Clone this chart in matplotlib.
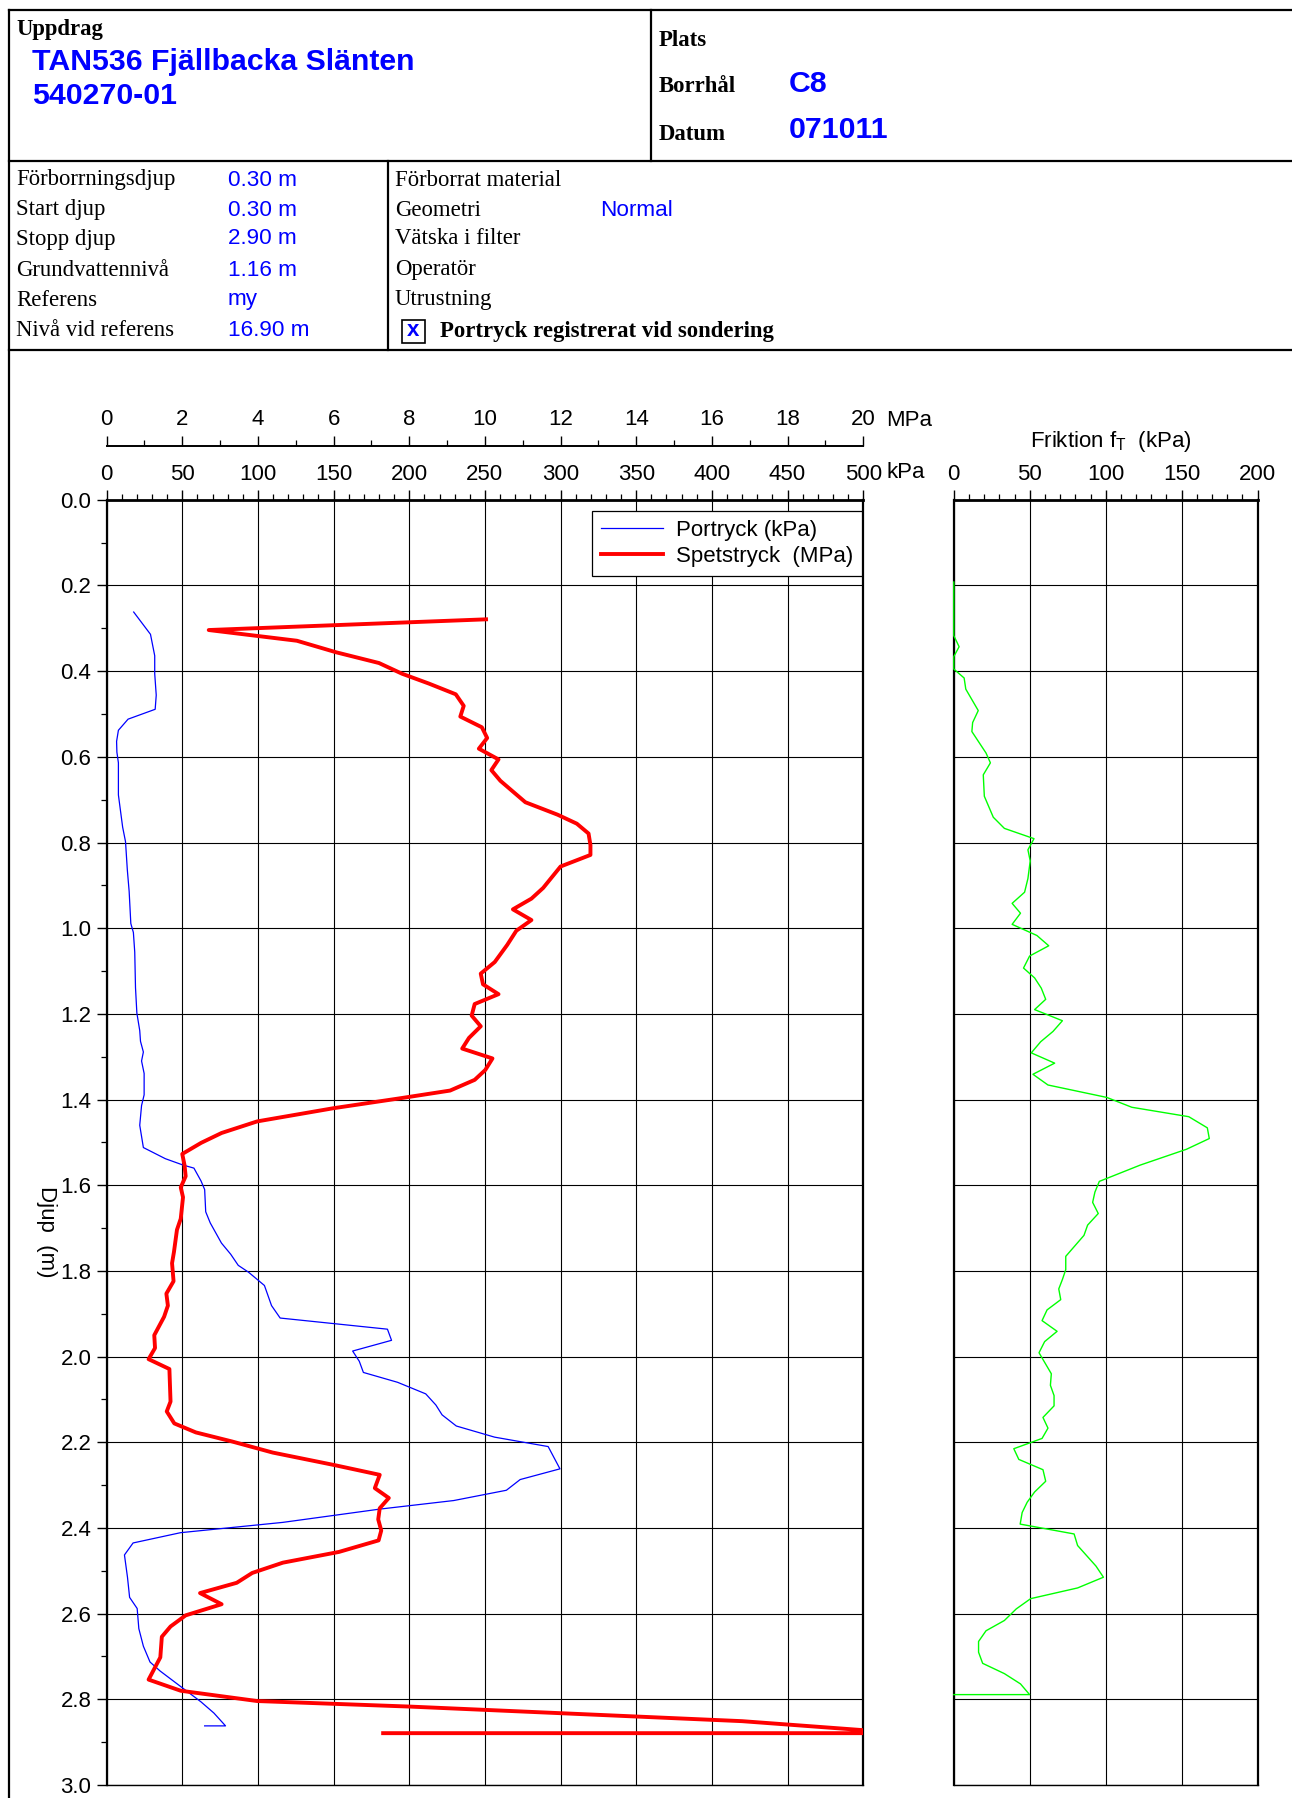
import numpy as np
import matplotlib.pyplot as plt
from matplotlib.lines import Line2D
from matplotlib.patches import Rectangle
from matplotlib.ticker import MultipleLocator, FormatStrFormatter

plt.rcParams['font.family'] = ['Liberation Sans', 'DejaVu Sans']
plt.rcParams['mathtext.default'] = 'regular'

W, H = 1292, 1798

# Portryck (kPa) mot djup (m)
pore_depth = [0.262, 0.314, 0.364, 0.406, 0.456, 0.489, 0.512, 0.538, 0.564, 0.589,
              0.614, 0.689, 0.764, 0.798, 0.864, 0.914, 0.989, 1.010, 1.056, 1.139,
              1.198, 1.239, 1.264, 1.289, 1.310, 1.339, 1.389, 1.414, 1.460, 1.512,
              1.538, 1.553, 1.560, 1.590, 1.610, 1.662, 1.688, 1.735, 1.761, 1.787,
              1.803, 1.834, 1.881, 1.910, 1.936, 1.962, 1.987, 2.011, 2.037, 2.060,
              2.087, 2.113, 2.136, 2.162, 2.188, 2.210, 2.262, 2.287, 2.312, 2.336,
              2.356, 2.387, 2.411, 2.435, 2.463, 2.515, 2.562, 2.588, 2.635, 2.676,
              2.713, 2.734, 2.770, 2.806, 2.832, 2.862, 2.862]
pore_kpa = [17.9, 29.0, 31.8, 31.8, 32.8, 32.1, 14.2, 7.8, 6.6, 6.8,
            7.8, 7.8, 10.6, 12.5, 13.7, 14.9, 16.0, 17.7, 18.6, 19.1,
            20.0, 21.9, 22.4, 24.3, 23.1, 24.8, 24.8, 23.1, 21.9, 24.3,
            38.8, 50.6, 57.7, 62.4, 64.8, 65.5, 68.5, 75.9, 82.0, 87.0,
            93.8, 104.3, 109.0, 114.7, 185.6, 188.3, 162.6, 167.0, 169.7, 192.3,
            210.9, 217.6, 221.7, 231.1, 256.4, 291.8, 299.6, 273.3, 264.2, 229.4,
            180.5, 116.4, 48.9, 17.5, 11.8, 13.8, 15.2, 20.2, 21.3, 24.3,
            28.7, 35.4, 48.9, 62.4, 70.9, 78.6, 64.8]

# Spetstryck (MPa) mot djup (m)
tip_depth = [0.279, 0.304, 0.329, 0.356, 0.381, 0.406, 0.429, 0.454, 0.481, 0.506,
             0.531, 0.556, 0.581, 0.606, 0.631, 0.656, 0.681, 0.706, 0.735, 0.756,
             0.779, 0.806, 0.829, 0.856, 0.906, 0.931, 0.956, 0.981, 1.006, 1.039,
             1.079, 1.106, 1.131, 1.154, 1.177, 1.204, 1.229, 1.256, 1.281, 1.304,
             1.331, 1.354, 1.379, 1.397, 1.420, 1.451, 1.478, 1.501, 1.527, 1.553,
             1.579, 1.605, 1.628, 1.678, 1.704, 1.756, 1.782, 1.824, 1.853, 1.881,
             1.907, 1.950, 1.980, 2.006, 2.029, 2.105, 2.128, 2.156, 2.177, 2.198,
             2.224, 2.253, 2.276, 2.307, 2.330, 2.354, 2.380, 2.406, 2.429, 2.456,
             2.481, 2.505, 2.528, 2.552, 2.578, 2.604, 2.630, 2.654, 2.702, 2.754,
             2.780, 2.804, 2.817, 2.851, 2.872, 2.879, 2.879]
tip_mpa = [10.03, 2.70, 5.03, 6.07, 7.20, 7.81, 8.52, 9.23, 9.44, 9.35,
           9.92, 10.06, 9.84, 10.36, 10.17, 10.41, 10.74, 11.07, 11.92, 12.43,
           12.74, 12.79, 12.79, 12.00, 11.54, 11.23, 10.74, 11.23, 10.83, 10.59,
           10.26, 9.89, 9.95, 10.36, 9.73, 9.65, 9.89, 9.58, 9.40, 10.20,
           10.01, 9.73, 9.08, 7.76, 6.01, 3.98, 3.04, 2.50, 2.00, 2.06,
           2.09, 1.96, 2.02, 1.96, 1.86, 1.78, 1.73, 1.77, 1.58, 1.62,
           1.52, 1.26, 1.28, 1.11, 1.66, 1.69, 1.59, 1.79, 2.36, 3.31,
           4.39, 6.01, 7.22, 7.09, 7.46, 7.22, 7.18, 7.26, 7.19, 6.14,
           4.66, 3.85, 3.44, 2.47, 3.04, 2.09, 1.69, 1.46, 1.42, 1.11,
           1.96, 3.98, 8.03, 16.8, 20.0, 20.0, 7.31]

# Friktion fT (kPa) mot djup (m)
fric_depth = [0.192, 0.317, 0.343, 0.366, 0.395, 0.416, 0.442, 0.492, 0.520, 0.541,
              0.591, 0.614, 0.642, 0.692, 0.741, 0.767, 0.791, 0.817, 0.843, 0.884,
              0.916, 0.942, 0.965, 0.991, 1.017, 1.041, 1.065, 1.093, 1.116, 1.140,
              1.166, 1.190, 1.216, 1.241, 1.265, 1.291, 1.315, 1.341, 1.366, 1.395,
              1.418, 1.440, 1.466, 1.491, 1.516, 1.553, 1.591, 1.616, 1.640, 1.666,
              1.693, 1.717, 1.766, 1.797, 1.820, 1.842, 1.867, 1.891, 1.916, 1.941,
              1.965, 1.991, 2.040, 2.067, 2.091, 2.115, 2.142, 2.167, 2.191, 2.215,
              2.240, 2.264, 2.291, 2.316, 2.340, 2.364, 2.391, 2.414, 2.441, 2.489,
              2.515, 2.540, 2.565, 2.589, 2.616, 2.640, 2.665, 2.690, 2.716, 2.740,
              2.764, 2.789, 2.789]
fric_kpa = [0.0, 0.0, 3.5, 0.0, 0.0, 6.8, 7.9, 16.1, 12.4, 11.9,
            21.2, 24.1, 19.4, 20.1, 26.0, 33.3, 52.8, 48.8, 50.3, 48.8,
            46.6, 38.4, 43.9, 38.4, 54.7, 62.5, 49.9, 45.9, 53.2, 57.6,
            60.5, 53.2, 71.5, 65.3, 57.2, 51.0, 66.4, 52.1, 62.0, 100.7,
            117.2, 154.7, 166.9, 168.2, 153.2, 122.7, 95.8, 92.9, 91.4, 95.1,
            88.1, 85.7, 73.7, 73.7, 71.5, 69.1, 70.4, 61.4, 58.1, 68.0,
            59.8, 56.1, 64.2, 63.6, 66.0, 66.0, 58.7, 62.0, 58.1, 39.5,
            42.8, 58.7, 60.5, 53.2, 48.3, 45.0, 43.7, 79.2, 81.5, 93.6,
            98.5, 81.5, 50.6, 41.1, 33.3, 21.2, 16.3, 16.3, 19.0, 33.3,
            43.9, 49.9, 0.0]

left_rows = [('Förborrningsdjup', '0.30 m'), ('Start djup', '0.30 m'),
             ('Stopp djup', '2.90 m'), ('Grundvattennivå', '1.16 m'),
             ('Referens', 'my'), ('Nivå vid referens', '16.90 m')]
right_rows = [('Förborrat material', ''), ('Geometri', 'Normal'),
              ('Vätska i filter', ''), ('Operatör', ''), ('Utrustning', '')]
row_y = [180, 210, 239, 270, 300, 331]

fig = plt.figure(figsize=(W / 100, H / 100), dpi=100)


def fx(x):
    return x / W


def fy(y):
    return 1 - y / H


def hline(y, x0, x1, lw=1.6):
    fig.add_artist(Line2D([fx(x0), fx(x1)], [fy(y), fy(y)], color='black', lw=lw))


def vline(x, y0, y1, lw=1.6):
    fig.add_artist(Line2D([fx(x), fx(x)], [fy(y0), fy(y1)], color='black', lw=lw))


serif = ['Liberation Serif', 'DejaVu Serif']
blue = '#0000ff'

# header frame
hline(10, 9, W)
hline(161, 9, W)
hline(350, 9, W)
vline(9, 10, H)
vline(651, 10, 161)
vline(388, 161, 350)

fig.text(fx(16), fy(29), 'Uppdrag', family=serif, weight='bold', fontsize=16.4, va='center')
fig.text(fx(32), fy(62), 'TAN536 Fjällbacka Slänten', color=blue, weight='bold', fontsize=21.8, va='center')
fig.text(fx(32), fy(96), '540270-01', color=blue, weight='bold', fontsize=21.8, va='center')
fig.text(fx(659), fy(41), 'Plats', family=serif, weight='bold', fontsize=16.4, va='center')
fig.text(fx(659), fy(86), 'Borrhål', family=serif, weight='bold', fontsize=16.4, va='center')
fig.text(fx(659), fy(135), 'Datum', family=serif, weight='bold', fontsize=16.4, va='center')
fig.text(fx(789), fy(84), 'C8', color=blue, weight='bold', fontsize=21.8, va='center')
fig.text(fx(789), fy(130), '071011', color=blue, weight='bold', fontsize=21.8, va='center')

for (lab, val), y in zip(left_rows, row_y):
    fig.text(fx(16), fy(y), lab, family=serif, fontsize=16.4, va='center')
    fig.text(fx(228), fy(y), val, color=blue, fontsize=16.2, va='center')
for (lab, val), y in zip(right_rows, row_y):
    fig.text(fx(395), fy(y), lab, family=serif, fontsize=16.4, va='center')
    if val:
        fig.text(fx(600), fy(y), val, color=blue, fontsize=16.2, va='center')

fig.add_artist(Rectangle((fx(402), fy(343)), fx(23), 23 / H, fill=False, ec='black', lw=1.2))
fig.text(fx(413.5), fy(331), 'x', color=blue, weight='bold', fontsize=16, ha='center', va='center')
fig.text(fx(440), fy(331), 'Portryck registrerat vid sondering', family=serif,
         weight='bold', fontsize=16.4, va='center')

# main diagram: kPa scale on the axes top, MPa scale further up
ax_l, ax_r, ax_t, ax_b = 106.6, 863.2, 499.8, 1785.0
ax = fig.add_axes([fx(ax_l), fy(ax_b), (ax_r - ax_l) / W, (ax_b - ax_t) / H])
axm = ax.twiny()

ax.set_xlim(0, 500)
ax.set_ylim(3.0, 0.0)
ax.xaxis.set_ticks_position('top')
ax.xaxis.set_label_position('top')
ax.xaxis.set_major_locator(MultipleLocator(50))
ax.xaxis.set_minor_locator(MultipleLocator(10))
ax.yaxis.set_major_locator(MultipleLocator(0.2))
ax.yaxis.set_minor_locator(MultipleLocator(0.1))
ax.yaxis.set_major_formatter(FormatStrFormatter('%.1f'))
ax.tick_params(which='major', length=7, width=1.0, labelsize=16, pad=4,
               top=True, labeltop=True, bottom=False, labelbottom=False)
ax.tick_params(which='minor', length=4, width=0.9, top=True, bottom=False)
ax.grid(which='major', color='black', lw=0.8)
for s in ax.spines.values():
    s.set_linewidth(1.0)
ax.spines['top'].set_linewidth(2.0)
ax.spines['left'].set_linewidth(1.6)
ax.spines['right'].set_linewidth(1.6)

ax.plot(pore_kpa, pore_depth, color=blue, lw=0.9)

axm.set_xlim(0, 20)
axm.xaxis.set_ticks_position('top')
axm.spines['top'].set_position(('outward', 39))
axm.spines['top'].set_linewidth(1.4)
for side in ['bottom', 'left', 'right']:
    axm.spines[side].set_visible(False)
axm.xaxis.set_major_locator(MultipleLocator(2))
axm.xaxis.set_minor_locator(MultipleLocator(1))
axm.tick_params(which='major', length=7, width=1.0, labelsize=16, pad=4)
axm.tick_params(which='minor', length=4, width=0.9)

axm.plot(tip_mpa, tip_depth, color='#ff0000', lw=2.8)

handles = [Line2D([], [], color=blue, lw=0.9), Line2D([], [], color='#ff0000', lw=2.8)]
leg = axm.legend(handles, ['Portryck (kPa)', 'Spetstryck  (MPa)'], loc='upper right',
                 bbox_to_anchor=(0.998, 0.991), borderaxespad=0, fontsize=16,
                 fancybox=False, framealpha=1, edgecolor='black', handlelength=2.8,
                 handletextpad=0.55, labelspacing=0.2, borderpad=0.4)
leg.get_frame().set_linewidth(0.9)

fig.text(fx(886), fy(420), 'MPa', fontsize=16, va='center')
fig.text(fx(886), fy(472), 'kPa', fontsize=16, va='center')
fig.text(fx(46), fy(1232), 'Djup  (m)', fontsize=16, rotation=270, ha='center', va='center')

# friction diagram
fr_l, fr_r = 953.8, 1257.6
axf = fig.add_axes([fx(fr_l), fy(ax_b), (fr_r - fr_l) / W, (ax_b - ax_t) / H])
axf.set_xlim(0, 200)
axf.set_ylim(3.0, 0.0)
axf.xaxis.tick_top()
axf.xaxis.set_major_locator(MultipleLocator(50))
axf.xaxis.set_minor_locator(MultipleLocator(10))
axf.yaxis.set_major_locator(MultipleLocator(0.2))
axf.tick_params(axis='y', which='both', length=0, labelleft=False)
axf.tick_params(axis='x', which='major', length=7, width=1.0, labelsize=16, pad=4)
axf.tick_params(axis='x', which='minor', length=4, width=0.9)
axf.grid(which='major', color='black', lw=0.8)
for s in axf.spines.values():
    s.set_linewidth(1.0)
axf.spines['top'].set_linewidth(2.0)
axf.spines['left'].set_linewidth(1.6)
axf.spines['right'].set_linewidth(1.6)

axf.plot(fric_kpa, fric_depth, color='#00ff00', lw=1.0, clip_on=False, zorder=3)

fig.text(fx(1111), fy(442), 'Friktion f$_T$  (kPa)', fontsize=16, ha='center', va='center')

fig.savefig('out.png', dpi=100)
